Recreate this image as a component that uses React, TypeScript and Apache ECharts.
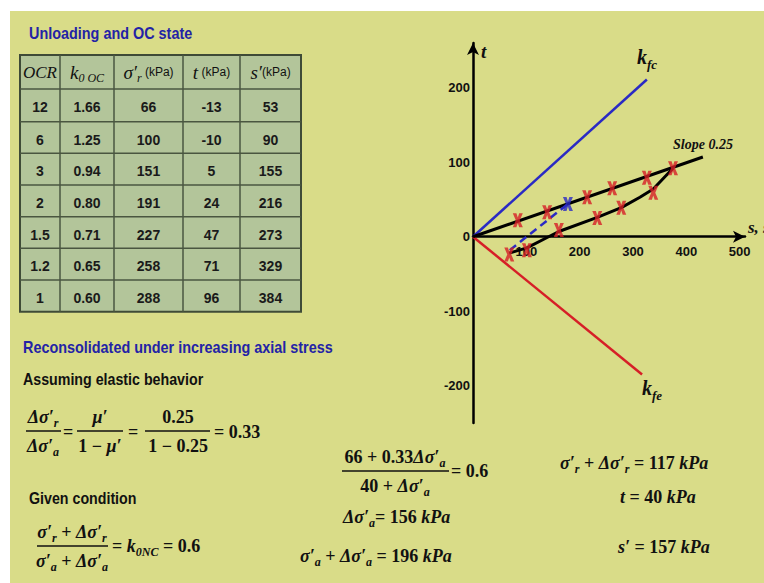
import React, { useEffect, useRef } from 'react';
import * as echarts from 'echarts';

// ---- table data ----
const ocrValues = ['12', '6', '3', '2', '1.5', '1.2', '1'];
const k0ocValues = ['1.66', '1.25', '0.94', '0.80', '0.71', '0.65', '0.60'];
const sigmaRValues = [66, 100, 151, 191, 227, 258, 288];
const tValues = [-13, -10, 5, 24, 47, 71, 96];
const sValues = [53, 90, 155, 216, 273, 329, 384];

// ---- chart tick labels ----
const xTicks = [100, 200, 300, 400, 500];
const yTicks = [-200, -100, 0, 100, 200];

// ---- chart paths / marks (s', t) ----
const kfcLine = [[0, 0], [326, 211]];
const kfeLine = [[0, 0], [317, -185]];
const slopeLine = [[0, 0], [431, 107]];
const upperMarks = [[84, 22], [139, 33], [214, 53], [261, 65], [326, 79], [375, 92]];
const lowerCurve = [[68, -22], [101, -15], [139, -1], [161, 7], [233, 26], [278, 39], [313, 53], [338, 64], [375, 92]];
const lowerMarks = [[68, -24], [101, -18], [161, 9], [233, 25], [278, 39], [338, 59]];
const dashedPath = [[69, -18], [178, 44]];
const blueMarks = [[178, 44]];

const SERIF = '"Liberation Serif", "DejaVu Serif", serif';
const SANS = '"Liberation Sans", Arial, sans-serif';
const INK = '#111111';
const BLUE = '#2a2ac4';
const RED = '#d61f27';
const TITLE_BLUE = '#2323a6';
const XMARK = 'path://M0,0L3.6,0L5,4.2L6.4,0L10,0L7,7L10,14L6.4,14L5,9.8L3.6,14L0,14L3,7Z';

const EQ_RICH: any = {
  mi: { fontFamily: SERIF, fontStyle: 'italic', fontWeight: 'bold', fontSize: 18, height: 20, lineHeight: 20, verticalAlign: 'top', fill: INK },
  mn: { fontFamily: SERIF, fontStyle: 'normal', fontWeight: 'bold', fontSize: 18, height: 20, lineHeight: 20, verticalAlign: 'top', fill: INK },
  sb: { fontFamily: SERIF, fontStyle: 'italic', fontWeight: 'bold', fontSize: 12, height: 12, lineHeight: 12, padding: [10, 0, 0, 0], verticalAlign: 'top', fill: INK },
};

const HEAD_RICH: any = {
  hm: { fontFamily: SERIF, fontStyle: 'italic', fontWeight: 'normal', fontSize: 17, height: 20, lineHeight: 20, verticalAlign: 'top', fill: INK },
  hk: { fontFamily: SERIF, fontStyle: 'italic', fontWeight: 'normal', fontSize: 19, height: 20, lineHeight: 20, verticalAlign: 'top', fill: INK },
  hs: { fontFamily: SERIF, fontStyle: 'italic', fontWeight: 'normal', fontSize: 12, height: 12, lineHeight: 12, padding: [10, 0, 0, 0], verticalAlign: 'top', fill: INK },
  hp: { fontFamily: SANS, fontWeight: 'normal', fontSize: 12, height: 20, lineHeight: 20, verticalAlign: 'top', fill: INK },
};

const K_RICH: any = {
  k: { fontFamily: SERIF, fontStyle: 'italic', fontWeight: 'bold', fontSize: 20, height: 22, lineHeight: 22, verticalAlign: 'top', fill: INK },
  ks: { fontFamily: SERIF, fontStyle: 'italic', fontWeight: 'bold', fontSize: 13, height: 13, lineHeight: 13, padding: [12, 0, 0, 0], verticalAlign: 'top', fill: INK },
};

function richText(x: number, yc: number, text: string, rich: any, align = 'left', half = 10): any {
  return {
    type: 'text', x, y: yc - half, z: 20,
    style: { text, rich, align, verticalAlign: 'top', fill: INK },
  };
}

function plainText(x: number, yc: number, text: string, font: any, align = 'left', scaleX = 1): any {
  return {
    type: 'text', x, y: yc, scaleX, z: 20,
    style: { text, align, verticalAlign: 'middle', fill: font.color || INK, fontFamily: font.family, fontSize: font.size, fontWeight: font.weight || 'normal', fontStyle: font.style || 'normal' },
  };
}

function bar(x1: number, x2: number, y: number): any {
  return { type: 'line', z: 20, shape: { x1, y1: y, x2, y2: y }, style: { stroke: INK, lineWidth: 1.6 } };
}

function fraction(cx: number, x1: number, x2: number, yBar: number, num: string, den: string): any[] {
  return [
    richText(cx, yBar - 14, num, EQ_RICH, 'center'),
    bar(x1, x2, yBar),
    richText(cx, yBar + 15, den, EQ_RICH, 'center'),
  ];
}

function buildTable(): any[] {
  const colX = [20, 60, 114, 183, 240, 301];
  const rowY = [55, 89, 121.7, 153.3, 185, 216.7, 248.3, 280, 311.7];
  const els: any[] = [];
  els.push({ type: 'rect', z: 5, shape: { x: colX[0], y: rowY[0], width: colX[5] - colX[0], height: rowY[8] - rowY[0] }, style: { fill: '#b3c59a', stroke: '#3f4b37', lineWidth: 2 } });
  for (let i = 1; i < colX.length - 1; i++) {
    els.push({ type: 'line', z: 6, shape: { x1: colX[i], y1: rowY[0], x2: colX[i], y2: rowY[8] }, style: { stroke: '#4a5640', lineWidth: 1.5 } });
  }
  for (let j = 1; j < rowY.length - 1; j++) {
    els.push({ type: 'line', z: 6, shape: { x1: colX[0], y1: rowY[j], x2: colX[5], y2: rowY[j] }, style: { stroke: '#4a5640', lineWidth: 1.5 } });
  }
  const cx = colX.slice(0, 5).map((v, i) => (v + colX[i + 1]) / 2);
  const hy = (rowY[0] + rowY[1]) / 2;
  els.push(richText(cx[0], hy, '{hm|OCR}', HEAD_RICH, 'center'));
  els.push(richText(cx[1], hy, '{hk|k}{hs|0 OC}', HEAD_RICH, 'center'));
  els.push(richText(cx[2], hy, '{hk|σ′}{hs|r}{hp| (kPa)}', HEAD_RICH, 'center'));
  els.push(richText(cx[3], hy, '{hk|t}{hp| (kPa)}', HEAD_RICH, 'center'));
  els.push(richText(cx[4], hy, '{hk|s′}{hp|(kPa)}', HEAD_RICH, 'center'));
  const cellFont = { family: SANS, size: 14, weight: 'bold', color: '#1a1a1a' };
  for (let r = 0; r < ocrValues.length; r++) {
    const yc = (rowY[r + 1] + rowY[r + 2]) / 2 + 2;
    const vals = [ocrValues[r], k0ocValues[r], String(sigmaRValues[r]), String(tValues[r]), String(sValues[r])];
    vals.forEach((v, c) => els.push(plainText(cx[c], yc, v, cellFont, 'center', 1)));
  }
  return els;
}

function buildSlideText(): any[] {
  const titleFont = { family: SANS, size: 16, weight: 'bold', color: TITLE_BLUE };
  const blackHead = { family: SANS, size: 16, weight: 'bold', color: INK };
  const els: any[] = [];
  els.push(plainText(29, 33, 'Unloading and OC state', titleFont, 'left', 0.9));
  els.push(plainText(23, 347, 'Reconsolidated under increasing axial stress', titleFont, 'left', 0.9));
  els.push(plainText(23, 379, 'Assuming elastic behavior', blackHead, 'left', 0.89));
  els.push(plainText(29, 498, 'Given condition', blackHead, 'left', 0.89));

  // equation 1
  els.push(...fraction(43, 26, 61, 431, '{mi|Δσ′}{sb|r}', '{mi|Δσ′}{sb|a}'));
  els.push(richText(68, 432, '{mn|=}', EQ_RICH, 'center'));
  els.push(...fraction(100, 77, 123, 431, '{mi|μ′}', '{mn|1 − }{mi|μ′}'));
  els.push(richText(133, 432, '{mn|=}', EQ_RICH, 'center'));
  els.push(...fraction(178, 145, 210, 431, '{mn|0.25}', '{mn|1 − 0.25}'));
  els.push(richText(214, 432, '{mn|= 0.33}', EQ_RICH, 'left'));

  // equation 2
  els.push(...fraction(72, 37, 108, 546, '{mi|σ′}{sb|r}{mn| + }{mi|Δσ′}{sb|r}', '{mi|σ′}{sb|a}{mn| + }{mi|Δσ′}{sb|a}'));
  els.push(richText(112, 546, '{mn|= }{mi|k}{sb|0NC}{mn| = 0.6}', EQ_RICH, 'left'));

  // middle block
  els.push(...fraction(395, 342, 449, 471, '{mn|66 + 0.33}{mi|Δσ′}{sb|a}', '{mn|40 + }{mi|Δσ′}{sb|a}'));
  els.push(richText(451, 471, '{mn|= 0.6}', EQ_RICH, 'left'));
  els.push(richText(343, 517, '{mi|Δσ′}{sb|a}{mn|= 156 }{mi|kPa}', EQ_RICH, 'left'));
  els.push(richText(300, 556, '{mi|σ′}{sb|a}{mn| + }{mi|Δσ′}{sb|a}{mn| = 196 }{mi|kPa}', EQ_RICH, 'left'));

  // right block
  els.push(richText(560, 463, '{mi|σ′}{sb|r}{mn| + }{mi|Δσ′}{sb|r}{mn| = 117 }{mi|kPa}', EQ_RICH, 'left'));
  els.push(richText(620, 497, '{mi|t}{mn| = 40 }{mi|kPa}', EQ_RICH, 'left'));
  els.push(richText(618, 547, '{mi|s′}{mn| = 157 }{mi|kPa}', EQ_RICH, 'left'));

  // chart annotations
  els.push(richText(637, 57, '{k|k}{ks|fc}', K_RICH, 'left', 11));
  els.push(richText(642, 388, '{k|k}{ks|fe}', K_RICH, 'left', 11));
  els.push(plainText(673, 144, 'Slope 0.25', { family: SERIF, size: 14, weight: 'bold', style: 'italic' }, 'left', 1));
  els.push(plainText(481, 51, 't', { family: SERIF, size: 19, weight: 'bold', style: 'italic' }, 'left', 1));
  els.push(plainText(748, 227, 's, s′', { family: SERIF, size: 17, weight: 'bold', style: 'italic' }, 'left', 1));
  return els;
}

const GRID_TOP = 43;
const GRID_H = 380;
const Y_MIN = -250;
const Y_MAX = 260;

export default function App() {
  const ref = useRef<HTMLDivElement>(null);
  useEffect(() => {
    if (!ref.current) return;
    const chart = echarts.init(ref.current, undefined, { renderer: 'svg' });
    const zeroOffset = -(GRID_H * (0 - Y_MIN)) / (Y_MAX - Y_MIN);
    const mkAxisLine = () => ({ show: true, onZero: false, lineStyle: { color: '#000', width: 2.5 }, symbol: ['none', 'arrow'], symbolSize: [9, 12] });
    const option: any = {
      animation: false,
      backgroundColor: '#d9dc88',
      grid: { left: 473, top: GRID_TOP, width: 272, height: GRID_H },
      xAxis: {
        type: 'value', min: 0, max: 510, interval: 100, position: 'bottom', offset: zeroOffset,
        axisLine: mkAxisLine(), axisTick: { show: false }, splitLine: { show: false },
        axisLabel: {
          margin: 8, color: INK, fontSize: 13, fontWeight: 'bold', fontFamily: SANS,
          formatter: (v: number) => (xTicks.includes(Math.round(v)) && Math.abs(v - Math.round(v)) < 1e-6 ? String(Math.round(v)) : ''),
        },
      },
      yAxis: {
        type: 'value', min: Y_MIN, max: Y_MAX, interval: 50,
        axisLine: mkAxisLine(), axisTick: { show: false }, splitLine: { show: false },
        axisLabel: {
          margin: 3, color: INK, fontSize: 13, fontWeight: 'bold', fontFamily: SANS,
          formatter: (v: number) => (yTicks.includes(Math.round(v)) && Math.abs(v - Math.round(v)) < 1e-6 ? String(Math.round(v)) : ''),
        },
      },
      series: [
        { type: 'line', data: kfcLine, symbol: 'none', clip: false, lineStyle: { color: BLUE, width: 2.5 }, z: 3 },
        { type: 'line', data: kfeLine, symbol: 'none', clip: false, lineStyle: { color: RED, width: 2.5 }, z: 3 },
        { type: 'line', data: slopeLine, symbol: 'none', clip: false, lineStyle: { color: '#000', width: 3 }, z: 3 },
        { type: 'line', data: lowerCurve, symbol: 'none', clip: false, lineStyle: { color: '#000', width: 3 }, z: 3 },
        { type: 'line', data: dashedPath, symbol: 'none', clip: false, lineStyle: { color: BLUE, width: 2.5, type: [8, 5] }, z: 4 },
        { type: 'scatter', data: [...upperMarks, ...lowerMarks], symbol: XMARK, symbolSize: [10, 14], itemStyle: { color: RED }, z: 6 },
        { type: 'scatter', data: blueMarks, symbol: XMARK, symbolSize: [10, 14], itemStyle: { color: BLUE }, z: 6 },
      ],
      graphic: {
        elements: [
          { type: 'rect', z: 1, shape: { x: 0, y: 0, width: 764, height: 11 }, style: { fill: '#ffffff' } },
          { type: 'rect', z: 1, shape: { x: 0, y: 0, width: 10, height: 583 }, style: { fill: '#ffffff' } },
          ...buildTable(),
          ...buildSlideText(),
        ],
      },
    };
    chart.setOption(option);
    return () => chart.dispose();
  }, []);
  return <div ref={ref} style={{ position: 'absolute', left: 0, top: 0, width: 764, height: 583 }} />;
}
